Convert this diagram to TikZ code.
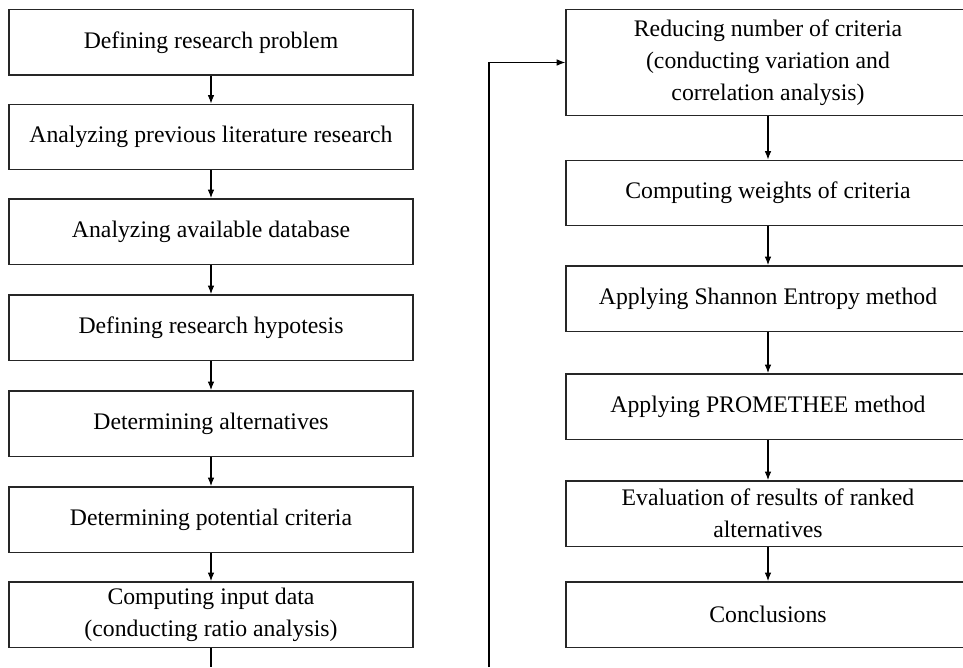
\documentclass[tikz,border=0pt]{standalone}
\usepackage{fontspec}
\setmainfont{Liberation Serif}
\usetikzlibrary{arrows.meta}

\tikzset{
  box/.style={shape=rectangle, draw=black!85, line width=1pt, minimum width=303pt,
    minimum height=49pt, inner sep=0pt, align=center,
    font=\fontsize{17.8}{24}\selectfont},
}

\begin{document}
\begin{tikzpicture}[x=0.75pt, y=-0.75pt, line width=0.8pt,
    >={Latex[length=6.5pt,width=5pt]}]
  \useasboundingbox (0,0) rectangle (963,667);

  \node[box] (l1) at (211,42.5) {Defining research problem};
  \node[box] (l2) at (211,137) {Analyzing previous literature research};
  \node[box] (l3) at (211,231.5) {Analyzing available database};
  \node[box] (l4) at (211,327.5) {Defining research hypotesis};
  \node[box] (l5) at (211,423.5) {Determining alternatives};
  \node[box] (l6) at (211,519.5) {Determining potential criteria};
  \node[box] (l7) at (211,614.5) {Computing input data\\(conducting ratio analysis)};

  \node[box, minimum height=79pt] (r1) at (768,62.5) {Reducing number of criteria\\(conducting variation and\\correlation analysis)};
  \node[box] (r2) at (768,193) {Computing weights of criteria};
  \node[box] (r3) at (768,298.5) {Applying Shannon Entropy method};
  \node[box] (r4) at (768,406.5) {Applying PROMETHEE method};
  \node[box] (r5) at (768,513.5) {Evaluation of results of ranked\\alternatives};
  \node[box] (r6) at (768,614.5) {Conclusions};

  \coordinate (lend) at (211,667);
  \coordinate (rend) at (489,667);

  \path (l1) edge[->] node {} (l2);
  \path (l2) edge[->] node {} (l3);
  \path (l3) edge[->] node {} (l4);
  \path (l4) edge[->] node {} (l5);
  \path (l5) edge[->] node {} (l6);
  \path (l6) edge[->] node {} (l7);
  \draw (l7) -- (lend);
  \draw[->] (rend) |- (r1.west);

  \path (r1) edge[->] node {} (r2);
  \path (r2) edge[->] node {} (r3);
  \path (r3) edge[->] node {} (r4);
  \path (r4) edge[->] node {} (r5);
  \path (r5) edge[->] node {} (r6);

\end{tikzpicture}
\end{document}
